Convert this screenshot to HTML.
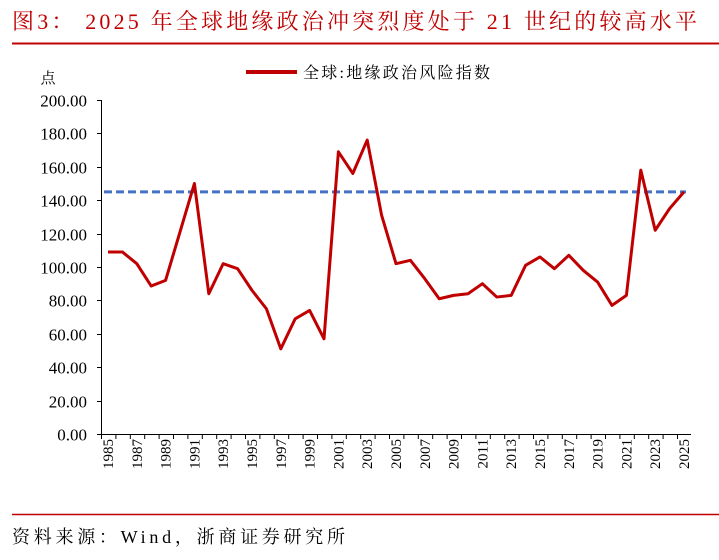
<!DOCTYPE html>
<html><head><meta charset="utf-8"><style>
body{margin:0;background:#fff;width:719px;height:555px;overflow:hidden;font-family:"Liberation Serif","Noto Serif CJK SC",serif}
</style></head><body>
<svg width="719" height="555" xmlns="http://www.w3.org/2000/svg">
<text x="12" y="29" font-size="22" fill="#C00000" textLength="685" lengthAdjust="spacing" font-family="Liberation Serif, Noto Serif CJK SC, serif">图3：  2025 年全球地缘政治冲突烈度处于 21 世纪的较高水平</text>
<line x1="12" y1="43.5" x2="719" y2="43.5" stroke="#C00000" stroke-width="2"/>
<text x="48" y="83" font-size="15" text-anchor="middle" font-family="Liberation Serif, Noto Serif CJK SC, serif">点</text>
<line x1="246" y1="72" x2="297" y2="72" stroke="#C00000" stroke-width="4"/>
<text x="303" y="78" font-size="16" textLength="187" lengthAdjust="spacing" font-family="Liberation Serif, Noto Serif CJK SC, serif">全球:地缘政治风险指数</text>
<g id="axes"></g>
<g id="marks"></g>
<line x1="12" y1="514.5" x2="719" y2="514.5" stroke="#C00000" stroke-width="1.5"/>
<text x="12" y="543" font-size="18" textLength="333" lengthAdjust="spacing" font-family="Liberation Serif, Noto Serif CJK SC, serif">资料来源：Wind，浙商证券研究所</text>
</svg>
<script>
const years=[1985,1986,1987,1988,1989,1990,1991,1992,1993,1994,1995,1996,1997,1998,1999,2000,2001,2002,2003,2004,2005,2006,2007,2008,2009,2010,2011,2012,2013,2014,2015,2016,2017,2018,2019,2020,2021,2022,2023,2024,2025];
const riskIndex=[109,109,102,88.6,92,121,150,84,102,99,86,75,51,69,74,57,169,156,176,131,102,104,93,81,83,84,90,82,83,101,106,99,107,98,91,77,83,158,122,135,145];
const refLevel=145;
const yTicks=[0,20,40,60,80,100,120,140,160,180,200];
const NS="http://www.w3.org/2000/svg";
const x0=108,dx=14.4,yB=434,yT=100;
const X=i=>x0+i*dx;
const Y=v=>yB-(v/200)*(yB-yT);
const axes=document.getElementById('axes'),marks=document.getElementById('marks');
function mk(tag,attrs,parent){const e=document.createElementNS(NS,tag);for(const k in attrs)e.setAttribute(k,attrs[k]);parent.appendChild(e);return e;}
let ya=mk('line',{x1:101.5,y1:yT,x2:101.5,y2:yB,stroke:'#000','stroke-width':1},axes);


let xa=mk('line',{x1:101.5,y1:yB+0.5,x2:X(years.length-1)+7,y2:yB+0.5,stroke:'#000','stroke-width':1},axes);


yTicks.forEach(v=>{
  const y=Math.round(Y(v))+0.5;
  let t=mk('line',{x1:97,y1:y,x2:101.5,y2:y,stroke:'#000'},axes);
  
  
  let l=mk('text',{x:87,y:y+6,'font-size':17,'text-anchor':'end'},axes);
  l.textContent=v.toFixed(2);
  
  
});
years.forEach((yr,i)=>{
  const x=X(i)-7+0.5;
  let t=mk('line',{x1:x,y1:yB,x2:x,y2:yB+5,stroke:'#000'},axes);
  
  
  if(i%2===0){
    let l=mk('text',{x:0,y:0,'font-size':15,'text-anchor':'end',transform:`translate(${X(i)+5},${yB+5}) rotate(-90)`},axes);
    l.textContent=yr;
    
    
  }
});
let ref=mk('line',{x1:X(0)-4,y1:Y(refLevel),x2:X(years.length-1)+2,y2:Y(refLevel),stroke:'#4472C4','stroke-width':3,'stroke-dasharray':'8,4'},marks);


let p=mk('polyline',{points:riskIndex.map((v,i)=>X(i)+','+Y(v)).join(' '),fill:'none',stroke:'#C00000','stroke-width':3,'stroke-linejoin':'round'},marks);


</script>
</body></html>
